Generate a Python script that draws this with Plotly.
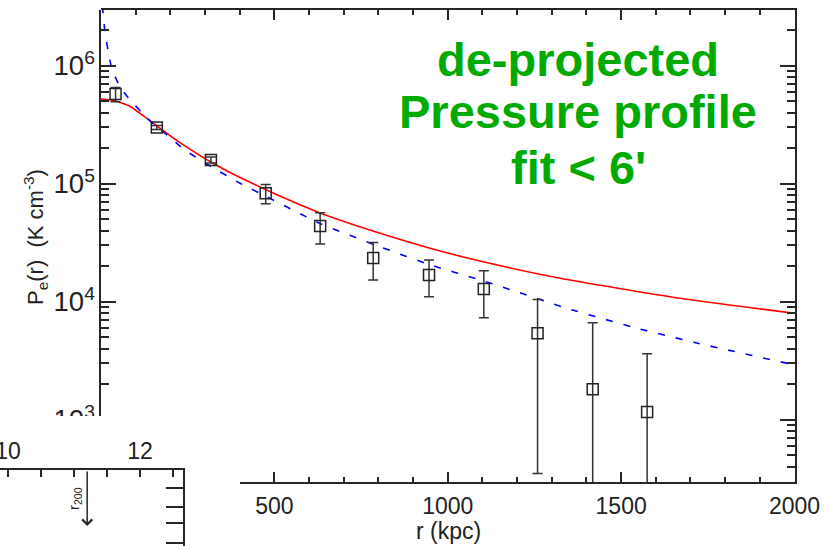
import plotly.graph_objects as go

# ---------------- data ----------------
# de-projected pressure points: radius (kpc), P_e (K cm^-3), 1-sigma error
r_data = [42, 161, 317, 475, 632, 785, 946, 1104, 1259, 1418, 1575]
p_data = [5.75e5, 3.0e5, 1.59e5, 8.3e4, 4.38e4, 2.35e4, 1.68e4, 1.28e4, 5.4e3, 1.81e3, 1.16e3]
p_err = [8.0e4, 1.2e4, 9.0e3, 1.55e4, 1.3e4, 8.2e3, 5.8e3, 5.5e3, 5.05e3, 4.83e3, 2.46e3]

# red solid model curve
r_red = [0, 40, 84, 127, 162, 199, 242, 286, 317, 372, 459, 516, 632, 805, 949,
         1093, 1324, 1670, 2000]
p_red = [5.22e5, 5.05e5, 4.51e5, 3.67e5, 3.08e5, 2.56e5, 2.09e5, 1.73e5, 1.527e5,
         1.244e5, 9.38e4, 7.87e4, 5.65e4, 3.8e4, 2.84e4, 2.21e4, 1.58e4, 1.07e4, 7.97e3]

# blue dashed model curve
r_blue = [4, 11.5, 20, 31, 55, 84, 133, 161, 208, 237, 286, 324, 401, 478, 632,
          805, 950, 1093, 1179, 1343, 1554, 1718, 2000]
p_blue = [3.2e6, 1.93e6, 1.36e6, 9.5e5, 6.6e5, 5.12e5, 3.6e5, 3.04e5, 2.35e5, 1.97e5,
          1.59e5, 1.36e5, 1.008e5, 7.76e4, 4.6e4, 2.92e4, 2.05e4, 1.53e4, 1.27e4,
          8.79e3, 5.87e3, 4.47e3, 2.91e3]

# inset fragment (lower left)
r200 = 11.2
inset_xticks_major = [10, 12]
inset_yticks = [3, 23, 39, 58]

title_lines = ["de-projected", "Pressure profile", "fit < 6'"]

# ---------------- geometry helpers ----------------
W, H = 832, 546
def px(x):
    return x / W
def py(y):
    return 1 - y / H

AX = "#262626"
FONT = "Liberation Sans, Arial, Helvetica, sans-serif"
X0, X1 = 101, 794.5       # main plot pixel extent (x)
Y0, Y1 = 10, 482          # main plot pixel extent (y)
LOGLO, LOGHI = 2.472, 6.472

def r_at(p):
    return (p - X0) / (X1 - X0) * 2000
def log_at(p):
    return LOGHI - (p - Y0) / (Y1 - Y0) * (LOGHI - LOGLO)

fig = go.Figure()

fig.add_trace(go.Scatter(
    x=r_red, y=p_red, mode="lines", xaxis="x", yaxis="y",
    line=dict(color="#ff0000", width=1.6, shape="spline", smoothing=0.5),
    showlegend=False, hoverinfo="skip"))
fig.add_trace(go.Scatter(
    x=r_blue, y=p_blue, mode="lines", xaxis="x", yaxis="y",
    line=dict(color="#0000ff", width=1.6, dash="7px,11px", shape="spline", smoothing=0.5),
    showlegend=False, hoverinfo="skip"))
fig.add_trace(go.Scatter(
    x=r_data, y=p_data, mode="markers", xaxis="x", yaxis="y",
    marker=dict(symbol="square-open", size=11, color="#222222", line=dict(width=1.5)),
    error_y=dict(type="data", array=p_err, visible=True, color="#333333",
                 thickness=1.5, width=5),
    showlegend=False, hoverinfo="skip"))

# empty traces so the decoration subplots are created
for xa, ya in [("x3", "y"), ("x", "y3"), ("x2", "y2")]:
    fig.add_trace(go.Scatter(x=[], y=[], xaxis=xa, yaxis=ya, showlegend=False,
                             hoverinfo="skip"))

common = dict(showgrid=False, zeroline=False, showline=True, linecolor=AX,
              linewidth=1.5, ticks="inside", tickcolor=AX, tickwidth=1.5,
              automargin=False, ticklabeloverflow="allow",
              tickfont=dict(family=FONT, size=23, color="#222222"))

xminor = dict(ticks="inside", dtick=100, tick0=0, ticklen=5, tickcolor=AX,
              tickwidth=1.5, showgrid=False)
yminor = dict(ticks="inside", dtick="D1", ticklen=8, tickcolor=AX,
              tickwidth=1.5, showgrid=False)

fig.update_layout(
    width=W, height=H,
    margin=dict(l=0, r=0, t=0, b=0, pad=0, autoexpand=False),
    paper_bgcolor="white", plot_bgcolor="rgba(0,0,0,0)", showlegend=False,
    # main subplot: top + right frame
    xaxis=dict(common, domain=[px(X0), px(X1)], range=[0, 2000], anchor="y",
               side="top", dtick=500, tick0=0, ticklen=10,
               showticklabels=False, minor=xminor),
    yaxis=dict(common, domain=[py(Y1), py(Y0)], type="log", range=[LOGLO, LOGHI],
               anchor="x", side="right", dtick=1, ticklen=15,
               showticklabels=False, minor=yminor),
    # bottom axis (starts at x=240)
    xaxis3=dict(common, domain=[px(240), px(X1)], range=[r_at(240), 2000],
                anchor="y", side="bottom", dtick=500, tick0=0, ticklen=10,
                ticklabelstandoff=3, minor=xminor),
    # left axis (labelled)
    yaxis3=dict(common, domain=[py(425.6), py(Y0)], type="log",
                range=[log_at(425.6), LOGHI], anchor="x", side="left", dtick=1,
                ticklen=15, exponentformat="power",
                tickfont=dict(family=FONT, size=22, color="#222222"),
                minor=yminor),
    # inset fragment
    xaxis2=dict(common, domain=[0, px(183)], range=[9.879, 12.652], anchor="y2",
                side="top", tickmode="array", tickvals=inset_xticks_major, ticklen=7,
                minor=dict(ticks="inside", dtick=0.5, tick0=0, ticklen=7,
                           tickcolor=AX, tickwidth=1.5, showgrid=False)),
    yaxis2=dict(common, domain=[0, py(470)], range=[0, 76], anchor="x2",
                side="right", tickmode="array", tickvals=inset_yticks, ticklen=17,
                showticklabels=False),
    shapes=[dict(type="rect", xref="paper", yref="paper", x0=0, x1=px(125),
                 y0=py(437), y1=py(416), fillcolor="white", line_width=0,
                 layer="above")],
)

ann = []
for txt, yc in zip(title_lines, [59, 112, 167]):
    ann.append(dict(text="<b>" + txt + "</b>", xref="paper", yref="paper",
                    x=px(578), y=py(yc), showarrow=False, xanchor="center",
                    yanchor="middle",
                    font=dict(family=FONT, size=47, color="#00aa00")))
ann.append(dict(text="r (kpc)", xref="paper", yref="paper", x=px(448), y=py(531),
                showarrow=False, xanchor="center", yanchor="middle",
                font=dict(family=FONT, size=23, color="#222222")))
ann.append(dict(text="P<sub>e</sub>(r)  (K cm<sup>-3</sup>)", xref="paper",
                yref="paper", x=px(35), y=py(237), showarrow=False, textangle=-90,
                xanchor="center", yanchor="middle",
                font=dict(family=FONT, size=22, color="#222222")))
ann.append(dict(text="", xref="x2", yref="y2", x=r200, y=20, ax=r200, ay=76,
                axref="x2", ayref="y2", showarrow=True, arrowhead=4, arrowsize=1.3,
                arrowwidth=1.5, arrowcolor=AX))
ann.append(dict(text="r<sub>200</sub>", xref="x2", yref="y2", x=11.0, y=48,
                showarrow=False, textangle=-90, xanchor="center", yanchor="middle",
                font=dict(family=FONT, size=15, color="#222222")))
fig.update_layout(annotations=ann)

fig.write_html("out.html")
